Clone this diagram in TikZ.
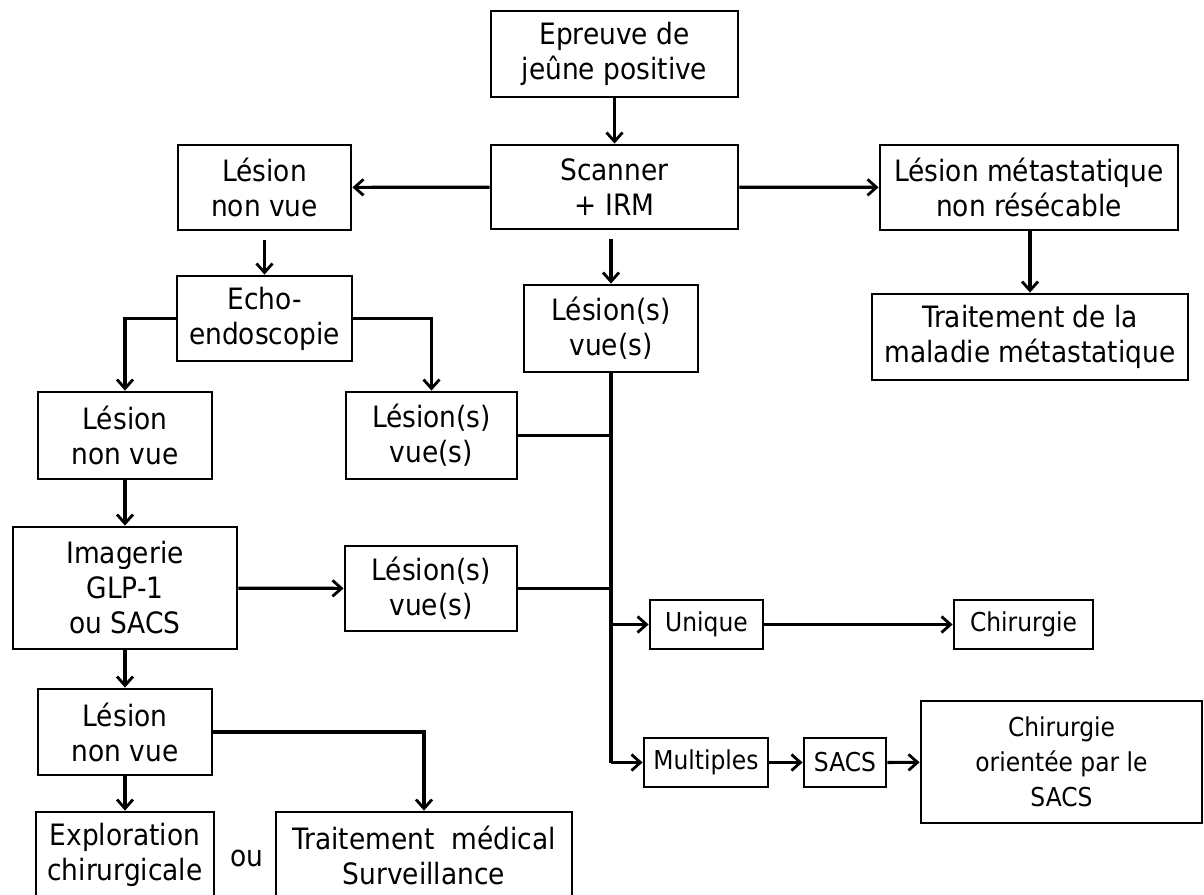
\documentclass[tikz,border=0pt]{standalone}
\usepackage{fontspec}
\setmainfont{DejaVu Sans Condensed}
\usepackage{tikz}
\usetikzlibrary{arrows.meta}
\tikzstyle{box}=[draw,line width=1.4pt,align=center,inner sep=0pt,font=\fontsize{14.7}{17.5}\selectfont]
\tikzstyle{sbox}=[box,font=\fontsize{13}{17.5}\selectfont]
\tikzstyle{arr}=[line width=1.6pt,-{Straight Barb[length=4.5pt,width=8pt,line width=1.4pt]}]
\tikzstyle{ln}=[line width=1.6pt]
\begin{document}
\begin{tikzpicture}[x=0.5pt,y=-0.5pt]
	\clip (0,0) rectangle (1204,894);
	% top of the tree
	\node[box,minimum width=123.5pt,minimum height=43pt] (epr) at (614.5,54) {Epreuve de\\jeûne positive};
	\node[box,minimum width=123.5pt,minimum height=42pt] (scan) at (614.5,187) {Scanner\\+ IRM};
	\node[box,minimum width=86.5pt,minimum height=42.5pt] (lnv1) at (264.5,187.5) {Lésion\\non vue};
	\node[box,minimum width=149pt,minimum height=42.5pt] (meta) at (1029,187.5) {Lésion métastatique\\non résécable};
	\node[box,minimum width=158pt,minimum height=43pt] (trt) at (1030,337) {Traitement de la\\maladie métastatique};
	\node[box,minimum width=87.5pt,minimum height=42.5pt] (echo) at (264.5,318.5) {Echo-\\endoscopie};
	\node[box,minimum width=87pt,minimum height=43.5pt] (lvc) at (611,328.5) {Lésion(s)\\vue(s)};
	% left branch
	\node[box,minimum width=87pt,minimum height=43.5pt] (lnv2) at (125,435.5) {Lésion\\non vue};
	\node[box,minimum width=85.5pt,minimum height=43.5pt] (lv1) at (431.5,435.5) {Lésion(s)\\vue(s)};
	\node[box,minimum width=112pt,minimum height=61pt] (img) at (125,588) {Imagerie\\GLP-1\\ou SACS};
	\node[box,minimum width=86pt,minimum height=42.5pt] (lv2) at (431,588.5) {Lésion(s)\\vue(s)};
	\node[box,minimum width=87pt,minimum height=43pt] (lnv3) at (125,732) {Lésion\\non vue};
	\node[box,minimum width=89pt,minimum height=43pt] (expl) at (125,855) {Exploration\\chirurgicale};
	\node[box,minimum width=148pt,minimum height=43pt] (med) at (424,855) {Traitement~~médical\\Surveillance};
	\node[font=\fontsize{14.7}{17.5}\selectfont] (ou) at (247,858) {ou};
	% right branch
	\node[sbox,minimum width=56.5pt,minimum height=24.5pt] (uniq) at (706.5,624.5) {Unique};
	\node[sbox,minimum width=69.5pt,minimum height=24.5pt] (chir) at (1023.5,624.5) {Chirurgie};
	\node[sbox,minimum width=62pt,minimum height=24.5pt] (mult) at (706,762.5) {Multiples};
	\node[sbox,minimum width=41pt,minimum height=24.5pt] (sacs) at (845,762.5) {SACS};
	\node[sbox,minimum width=140.5pt,minimum height=61pt] (chor) at (1061.5,762) {Chirurgie\\orientée par le\\SACS};
	\coordinate (tr) at (lvc.south |- mult.west);

	\draw[arr] (epr) -- (scan);
	\draw[arr] (scan) -- (lnv1);
	\draw[arr] (scan) -- (meta);
	\draw[arr] (meta.south -| trt.north) -- (trt);
	\draw[arr,shorten <=4.5pt] (lnv1) -- (echo);
	\draw[arr,shorten <=4.5pt] (scan.south -| lvc.north) -- (lvc);
	\draw[arr] (echo.west) -| (lnv2.north);
	\draw[arr] (echo.east) -| (lv1.north);
	\draw[arr] (lnv2) -- (img);
	\draw[arr] (img) -- (lv2);
	\draw[arr] (img) -- (lnv3);
	\draw[arr] (lnv3) -- (expl);
	\draw[arr] (lnv3.east) -| (med.north);
	\draw[ln] (lvc) -- (tr);
	\draw[ln] (lv1) -- (lv1 -| tr);
	\draw[ln] (lv2) -- (lv2 -| tr);
	\draw[arr] (uniq -| tr) -- (uniq);
	\draw[arr] (tr) -- (mult);
	\draw[arr] (uniq) -- (chir);
	\draw[arr] (mult) -- (sacs);
	\draw[arr] (sacs) -- (chor);
\end{tikzpicture}
\end{document}
